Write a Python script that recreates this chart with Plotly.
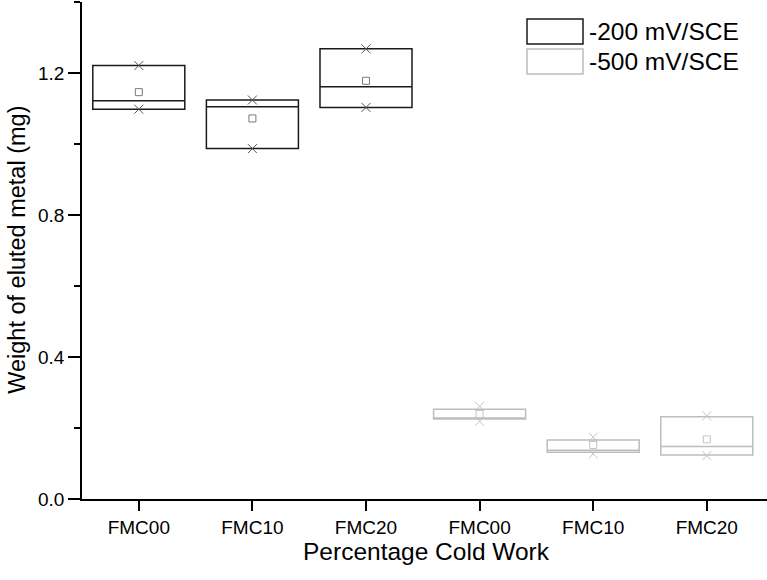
import plotly.graph_objects as go

# ---- data ----
categories = ["FMC00", "FMC10", "FMC20", "FMC00", "FMC10", "FMC20"]
positions = [0, 1, 2, 3, 4, 5]

# -200 mV/SCE
a_pos = [0, 1, 2]
a_q1 = [1.098, 0.987, 1.103]
a_median = [1.122, 1.105, 1.161]
a_q3 = [1.221, 1.124, 1.268]
a_mean = [1.146, 1.072, 1.178]
a_pmin = [1.098, 0.987, 1.103]
a_pmax = [1.221, 1.124, 1.268]

# -500 mV/SCE
b_pos = [3, 4, 5]
b_q1 = [0.225, 0.1315, 0.124]
b_median = [0.228, 0.137, 0.148]
b_q3 = [0.253, 0.166, 0.232]
b_mean = [0.2395, 0.152, 0.168]
b_pmin = [0.219, 0.127, 0.122]
b_pmax = [0.261, 0.174, 0.234]

series_names = ["-200 mV/SCE", "-500 mV/SCE"]
y_ticks = [0.0, 0.4, 0.8, 1.2]
y_minor = [0.2, 0.6, 1.0, 1.4]

FONT = "Liberation Sans, Arial, sans-serif"
DARK = "#1a1a1a"
LIGHT = "#bdbdbd"

fig = go.Figure()

for pos, q1, med, q3, mean, pmin, pmax, col, mcol, xcol in [
    (a_pos, a_q1, a_median, a_q3, a_mean, a_pmin, a_pmax, DARK, "#7a7a7a", "#555555"),
    (b_pos, b_q1, b_median, b_q3, b_mean, b_pmin, b_pmax, LIGHT, "#c4c4c4", "#c4c4c4"),
]:
    fig.add_trace(go.Box(
        x=pos, q1=q1, median=med, q3=q3, lowerfence=q1, upperfence=q3,
        width=0.81, whiskerwidth=0, fillcolor="rgba(0,0,0,0)",
        line=dict(color=col, width=1.5), boxpoints=False,
        showlegend=False, hoverinfo="skip",
    ))
    fig.add_trace(go.Scatter(
        x=pos, y=mean, mode="markers", showlegend=False,
        marker=dict(symbol="square-open", size=7, color=mcol, line=dict(width=1, color=mcol)),
    ))
    fig.add_trace(go.Scatter(
        x=pos + pos, y=pmin + pmax, mode="markers", showlegend=False,
        marker=dict(symbol="x-thin-open", size=9, color=xcol, line=dict(width=1, color=xcol)),
    ))

# ---- layout geometry (pixels) ----
W, H = 767, 580
L, R, T, B = 82, 0, 2, 80.5
pw = W - L - R
ph = H - T - B


def px(x):
    return (x - L) / pw


def py(y):
    return (H - B - y) / ph


shapes = [
    dict(type="rect", xref="paper", yref="paper", x0=px(527), x1=px(583), y0=py(44), y1=py(19),
         line=dict(color=DARK, width=1.5), fillcolor="rgba(0,0,0,0)"),
    dict(type="rect", xref="paper", yref="paper", x0=px(527), x1=px(583), y0=py(74), y1=py(49),
         line=dict(color=LIGHT, width=1.5), fillcolor="rgba(0,0,0,0)"),
]
annotations = [
    dict(text=series_names[0], xref="paper", yref="paper", x=px(587), y=py(31.5), xanchor="left",
         yanchor="middle", showarrow=False, font=dict(family=FONT, size=24.5, color="black")),
    dict(text=series_names[1], xref="paper", yref="paper", x=px(587), y=py(61.5), xanchor="left",
         yanchor="middle", showarrow=False, font=dict(family=FONT, size=24.5, color="black")),
    dict(text="Percentage Cold Work", xref="paper", yref="paper", x=px(426), y=py(552),
         xanchor="center", yanchor="middle", showarrow=False,
         font=dict(family=FONT, size=24.5, color="black")),
    dict(text="Weight of eluted metal (mg)", xref="paper", yref="paper", x=px(17), y=py(250),
         xanchor="center", yanchor="middle", showarrow=False, textangle=-90,
         font=dict(family=FONT, size=23.5, color="black")),
]

fig.update_layout(
    width=W, height=H,
    margin=dict(l=L, r=R, t=T, b=B, pad=0, autoexpand=False),
    paper_bgcolor="white", plot_bgcolor="white",
    font=dict(family=FONT, size=19, color="black"),
    shapes=shapes, annotations=annotations,
    showlegend=False,
    xaxis=dict(
        range=[-0.5, 5.53], tickmode="array", tickvals=positions, ticktext=categories,
        automargin=False,
        showline=True, linecolor="black", linewidth=1.5, showgrid=False, zeroline=False,
        ticks="outside", ticklen=10, tickwidth=1.5, tickcolor="black",
        tickfont=dict(family=FONT, size=19, color="black"),
    ),
    yaxis=dict(
        range=[0, 1.4], tickmode="array", tickvals=y_ticks, ticktext=["0.0", "0.4", "0.8", "1.2"],
        automargin=False,
        showline=True, linecolor="black", linewidth=1.5, showgrid=False, zeroline=False,
        ticks="outside", ticklen=12, tickwidth=1.5, tickcolor="black",
        tickfont=dict(family=FONT, size=19, color="black"),
        minor=dict(tickmode="array", tickvals=y_minor, ticks="outside", ticklen=6,
                   tickwidth=1.5, tickcolor="black", showgrid=False),
    ),
)

fig.write_html("out.html", config={"displayModeBar": False},
               post_script="document.body.style.margin='0px';")
